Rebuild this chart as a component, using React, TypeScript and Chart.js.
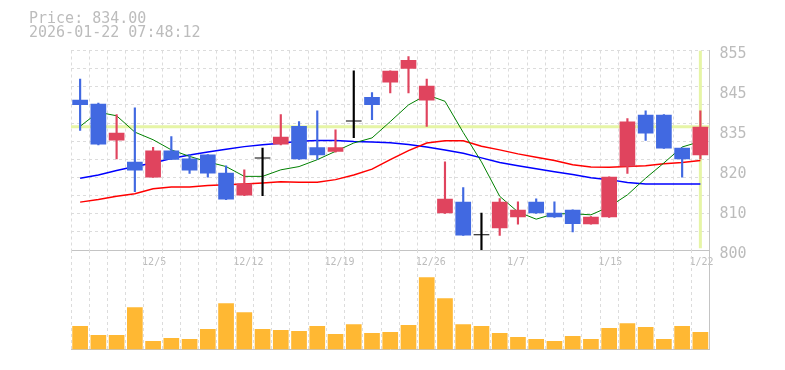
import React, { useEffect, useRef } from 'react';
import { Chart, registerables } from 'chart.js';

Chart.register(...registerables);

const dates = ['12/1','12/2','12/3','12/4','12/5','12/8','12/9','12/10','12/11','12/12','12/15','12/16','12/17','12/18','12/19','12/22','12/23','12/24','12/25','12/26','12/29','12/30','1/5','1/6','1/7','1/8','1/9','1/13','1/14','1/15','1/16','1/19','1/20','1/21','1/22'];

const opens = [841.4, 840.3, 830.2, 824.3, 820.0, 827.4, 825.2, 826.3, 821.3, 815.0, 825.2, 829.1, 834.2, 828.3, 827.1, 835.4, 842.2, 846.2, 850.0, 841.2, 810.1, 813.3, 804.1, 806.0, 809.0, 813.3, 810.3, 811.1, 807.1, 809.0, 823.0, 837.3, 837.3, 828.2, 826.1];
const highs = [847.1, 840.5, 837.3, 839.2, 828.3, 831.3, 826.3, 826.3, 823.2, 822.1, 828.1, 837.3, 835.4, 838.4, 833.1, 849.4, 843.4, 849.4, 853.3, 847.1, 824.3, 817.2, 810.2, 814.2, 813.3, 814.1, 813.3, 811.1, 809.2, 820.2, 836.2, 838.4, 837.3, 828.2, 838.4];
const lows = [833.0, 829.0, 825.1, 816.1, 820.0, 824.9, 821.1, 820.1, 813.9, 815.0, 815.0, 829.0, 825.0, 825.0, 827.0, 831.0, 835.9, 843.3, 843.3, 834.1, 810.1, 804.0, 800.1, 804.0, 807.1, 810.1, 809.0, 805.0, 807.1, 809.0, 821.1, 830.2, 828.0, 820.1, 825.1];
const closes = [840.0, 829.1, 832.3, 821.9, 827.4, 824.9, 821.9, 821.1, 813.9, 818.3, 825.2, 831.2, 825.0, 826.1, 828.3, 835.4, 840.0, 849.4, 852.4, 845.3, 814.1, 804.0, 804.1, 813.3, 811.1, 810.1, 809.0, 807.2, 809.2, 820.2, 835.4, 832.1, 828.0, 825.0, 834.0];

const ma5 = [834.1, 838.0, 837.0, 832.5, 830.4, 827.6, 825.8, 824.3, 823.0, 820.3, 820.3, 822.1, 823.0, 824.9, 827.2, 829.5, 830.9, 835.4, 840.0, 842.8, 841.0, 832.4, 824.3, 814.8, 810.5, 808.5, 810.0, 810.0, 809.7, 811.9, 815.2, 819.8, 824.0, 828.4, 829.9];
const ma25 = [813.2, 813.9, 814.8, 815.5, 816.9, 817.4, 817.4, 817.8, 818.0, 818.2, 818.5, 818.8, 818.7, 818.7, 819.4, 820.7, 822.3, 824.9, 827.4, 829.5, 830.1, 830.1, 828.6, 827.6, 826.5, 825.6, 824.7, 823.5, 822.9, 822.8, 823.0, 823.2, 823.8, 824.1, 824.7];
const ma75 = [819.8, 820.7, 821.9, 823.0, 824.0, 825.2, 826.2, 827.0, 827.8, 828.5, 829.0, 829.4, 830.0, 830.2, 830.2, 829.9, 829.8, 829.6, 829.1, 828.4, 827.6, 826.7, 825.4, 824.1, 823.2, 822.4, 821.6, 820.8, 819.9, 819.4, 818.6, 818.2, 818.2, 818.2, 818.2];

const volumes = [23500, 14500, 14500, 42500, 8500, 11500, 10500, 20500, 46500, 37500, 20500, 19500, 18500, 23500, 15500, 25500, 16500, 17500, 24500, 72500, 51500, 25500, 23500, 16500, 12500, 10500, 8500, 13500, 10500, 21500, 26500, 22500, 10500, 23500, 17500];

const xTickLabels = ['12/5', '12/12', '12/19', '12/26', '1/7', '1/15', '1/22'];
const yTickLabels = ['800', '810', '820', '835', '845', '855'];

const lastPrice = 834.0;
const priceText = 'Price: 834.00';
const stampText = '2026-01-22 07:48:12';

const UP = '#e0445e';
const DOWN = '#4169e1';
const FLAT = '#000000';
const MONO = '"DejaVu Sans Mono", "Liberation Mono", monospace';
const TEXT = '#bcbcbc';
const GRID = '#dcdcdc';
const AXIS = '#c4c4c4';
const MARK = '#e6f5a6';

const candleColors = opens.map((o, i) => (closes[i] > o ? UP : closes[i] < o ? DOWN : FLAT));
const lastIndex = dates.length - 1;

export default function App() {
  const priceRef = useRef<HTMLCanvasElement | null>(null);
  const volRef = useRef<HTMLCanvasElement | null>(null);

  useEffect(() => {
    if (!priceRef.current || !volRef.current) return;

    const price = new Chart(priceRef.current, {
      type: 'bar',
      data: {
        labels: dates,
        datasets: [
          {
            type: 'bar',
            data: opens.map((o, i) => [o, closes[i]]),
            backgroundColor: candleColors,
            grouped: false,
            barPercentage: 0.86,
            categoryPercentage: 1,
            minBarLength: 1,
            order: 0,
            yAxisID: 'y',
            xAxisID: 'x',
          } as any,
          {
            type: 'bar',
            data: lows.map((l, i) => [l, highs[i]]),
            backgroundColor: candleColors,
            grouped: false,
            barThickness: 1.5,
            order: 1,
            yAxisID: 'y',
            xAxisID: 'x',
          } as any,
          {
            type: 'line',
            data: ma5,
            borderColor: '#008000',
            borderWidth: 1,
            pointRadius: 0,
            tension: 0,
            order: 2,
            yAxisID: 'y',
            xAxisID: 'x',
          } as any,
          {
            type: 'line',
            data: ma25,
            borderColor: '#ff0000',
            borderWidth: 1.5,
            pointRadius: 0,
            tension: 0,
            order: 3,
            yAxisID: 'y',
            xAxisID: 'x',
          } as any,
          {
            type: 'line',
            data: ma75,
            borderColor: '#0000ff',
            borderWidth: 1.5,
            pointRadius: 0,
            tension: 0,
            order: 4,
            yAxisID: 'y',
            xAxisID: 'x',
          } as any,
          {
            type: 'line',
            data: [{ x: -0.5, y: lastPrice }, { x: lastIndex + 0.5, y: lastPrice }],
            borderColor: MARK,
            borderWidth: 3,
            pointRadius: 0,
            order: 10,
            yAxisID: 'y',
            xAxisID: 'xl',
          } as any,
          {
            type: 'line',
            data: [{ x: lastIndex, y: 800.5 }, { x: lastIndex, y: 855 }],
            borderColor: MARK,
            borderWidth: 3,
            pointRadius: 0,
            order: 10,
            yAxisID: 'y',
            xAxisID: 'xl',
          } as any,
        ],
      },
      options: {
        responsive: false,
        animation: false,
        devicePixelRatio: 1,
        layout: { padding: { left: 71, top: 50.5, right: 0, bottom: 102 } },
        plugins: { legend: { display: false }, tooltip: { enabled: false }, title: { display: false } },
        scales: {
          x: {
            type: 'category',
            offset: true,
            grid: { offset: true, color: GRID, drawTicks: false },
            border: { display: true, color: AXIS, dash: [3, 3] },
            ticks: {
              autoSkip: false,
              maxRotation: 0,
              align: 'start',
              labelOffset: -11,
              padding: 6,
              color: TEXT,
              font: { family: MONO, size: 10 },
              callback: (_v: any, i: number) => (xTickLabels.includes(dates[i]) ? dates[i] : ''),
            },
            afterFit: (s: any) => { s.height = 18; },
          },
          xl: {
            type: 'linear',
            display: false,
            offset: false,
            grid: { offset: false },
            min: -0.5,
            max: lastIndex + 0.5,
          },
          y: {
            type: 'linear',
            position: 'right',
            min: 800,
            max: 855,
            beginAtZero: false,
            ticks: { display: false, stepSize: 5 },
            grid: { color: GRID, drawTicks: false },
            border: { display: true, color: AXIS, dash: [3, 3] },
            afterFit: (s: any) => { s.width = 0; },
          },
          yl: {
            type: 'linear',
            position: 'right',
            min: 0,
            max: yTickLabels.length - 1,
            ticks: {
              stepSize: 1,
              padding: 10,
              labelOffset: 4,
              color: TEXT,
              font: { family: MONO, size: 15 },
              callback: (v: any) => yTickLabels[v as number] ?? '',
            },
            grid: { display: false, drawTicks: false },
            border: { display: false },
            afterFit: (s: any) => { s.width = 75.5; },
          },
        } as any,
      },
    });

    const vol = new Chart(volRef.current, {
      type: 'bar',
      data: {
        labels: dates,
        datasets: [
          {
            data: volumes,
            backgroundColor: '#ffb833',
            barPercentage: 0.86,
            categoryPercentage: 1,
          },
        ],
      },
      options: {
        responsive: false,
        animation: false,
        devicePixelRatio: 1,
        layout: { padding: { left: 71, top: 250, right: 0, bottom: 20.5 } },
        plugins: { legend: { display: false }, tooltip: { enabled: false } },
        scales: {
          x: {
            type: 'category',
            offset: true,
            grid: { offset: true, color: GRID, drawTicks: false },
            border: { display: true, color: AXIS, dash: [3, 3] },
            ticks: { display: false },
            afterFit: (s: any) => { s.height = 0; },
          },
          y: {
            type: 'linear',
            position: 'right',
            min: 0,
            max: 100000,
            ticks: { display: false },
            grid: { display: false, drawTicks: false },
            border: { display: true, color: AXIS },
            afterFit: (s: any) => { s.width = 75.5; },
          },
        } as any,
      },
    });

    return () => {
      price.destroy();
      vol.destroy();
    };
  }, []);

  const textStyle: React.CSSProperties = {
    position: 'absolute',
    left: 29,
    fontFamily: MONO,
    fontSize: 15,
    lineHeight: '14.4px',
    color: TEXT,
    whiteSpace: 'pre',
  };

  return (
    <div style={{ position: 'absolute', left: 0, top: 0, width: 785, height: 370, background: '#ffffff', overflow: 'hidden' }}>
      <canvas ref={priceRef} width={785} height={370} style={{ position: 'absolute', left: 0, top: 0, width: 785, height: 370 }} />
      <canvas ref={volRef} width={785} height={370} style={{ position: 'absolute', left: 0, top: 0, width: 785, height: 370 }} />
      <div style={{ ...textStyle, top: 10.9 }}>{priceText}</div>
      <div style={{ ...textStyle, top: 25.3 }}>{stampText}</div>
    </div>
  );
}
